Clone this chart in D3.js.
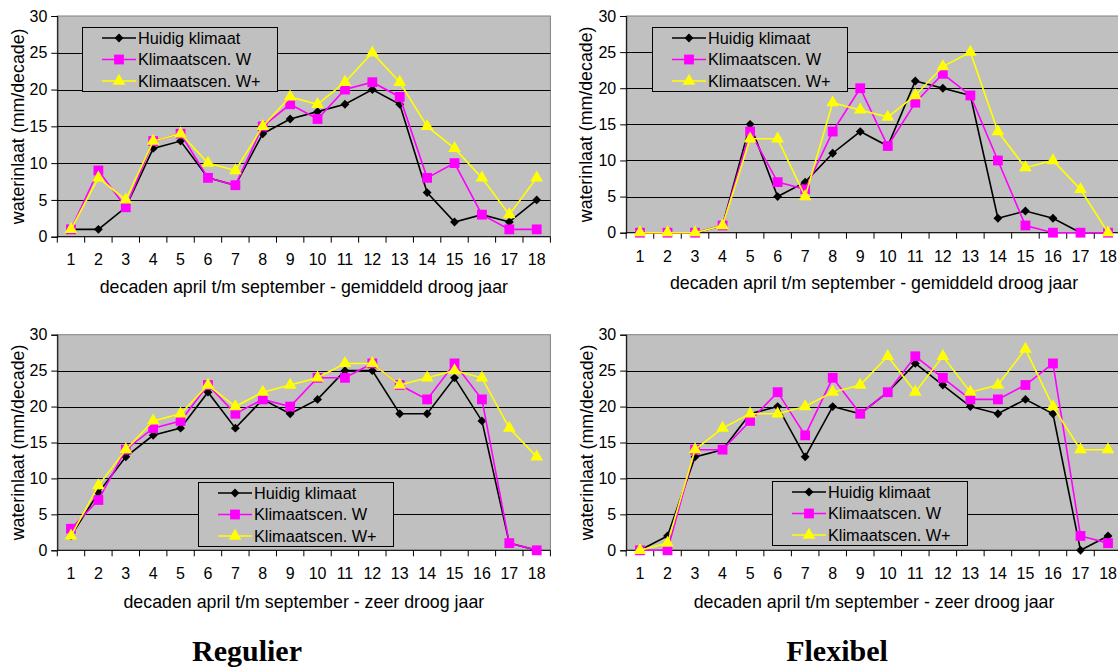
<!DOCTYPE html>
<html>
<head>
<meta charset="utf-8">
<script src="https://cdn.jsdelivr.net/npm/d3@7"></script>
<style>
  body { margin: 0; background: #fff; }
  svg { display: block; font-family: "Liberation Sans", Arial, sans-serif; }
</style>
</head>
<body>
<svg width="1118" height="668"></svg>
<script>
// categories and ticks
var decaden = ["1","2","3","4","5","6","7","8","9","10","11","12","13","14","15","16","17","18"];
var yTicks = [0, 5, 10, 15, 20, 25, 30];
var seriesNames = ["Huidig klimaat", "Klimaatscen. W", "Klimaatscen. W+"];

// Regulier - gemiddeld droog jaar
var regGemHuidig = [1, 1, 4, 12, 13, 8, 7, 14, 16, 17, 18, 20, 18, 6, 2, 3, 2, 5];
var regGemW      = [1, 9, 4, 13, 14, 8, 7, 15, 18, 16, 20, 21, 19, 8, 10, 3, 1, 1];
var regGemWplus  = [1, 8, 5, 13, 14, 10, 9, 15, 19, 18, 21, 25, 21, 15, 12, 8, 3, 8];

// Flexibel - gemiddeld droog jaar
var flexGemHuidig = [0, 0, 0, 1, 15, 5, 7, 11, 14, 12, 21, 20, 19, 2, 3, 2, 0, 0];
var flexGemW      = [0, 0, 0, 1, 14, 7, 6, 14, 20, 12, 18, 22, 19, 10, 1, 0, 0, 0];
var flexGemWplus  = [0, 0, 0, 1, 13, 13, 5, 18, 17, 16, 19, 23, 25, 14, 9, 10, 6, 0];

// Regulier - zeer droog jaar
var regZeerHuidig = [2, 8, 13, 16, 17, 22, 17, 21, 19, 21, 25, 25, 19, 19, 24, 18, 1, 0];
var regZeerW      = [3, 7, 14, 17, 18, 23, 19, 21, 20, 24, 24, 26, 23, 21, 26, 21, 1, 0];
var regZeerWplus  = [2, 9, 14, 18, 19, 23, 20, 22, 23, 24, 26, 26, 23, 24, 25, 24, 17, 13];

// Flexibel - zeer droog jaar
var flexZeerHuidig = [0, 2, 13, 14, 19, 20, 13, 20, 19, 22, 26, 23, 20, 19, 21, 19, 0, 2];
var flexZeerW      = [0, 0, 14, 14, 18, 22, 16, 24, 19, 22, 27, 24, 21, 21, 23, 26, 2, 1];
var flexZeerWplus  = [0, 1, 14, 17, 19, 19, 20, 22, 23, 27, 22, 27, 22, 23, 28, 20, 14, 14];

var xTitleGem = "decaden april t/m september - gemiddeld droog jaar";
var xTitleZeer = "decaden april t/m september - zeer droog jaar";
var yTitle = "waterinlaat (mm/decade)";

var colors = ["#000000", "#ff00ff", "#ffff00"];
var symbols = [d3.symbolDiamond2, d3.symbolSquare, d3.symbolTriangle];
var symbolSizes = [50, 96, 70];

var svg = d3.select("svg");

var panels = [
  { series: [regGemHuidig, regGemW, regGemWplus], xTitle: xTitleGem,
    left: 57.3, right: 550.4, top: 16, bottom: 236.7, tickY: 259, titleY: 287, yTitleX: 18,
    legend: { x: 82, y: 27 } },
  { series: [flexGemHuidig, flexGemW, flexGemWplus], xTitle: xTitleGem,
    left: 626.2, right: 1121.8, top: 16, bottom: 232.7, tickY: 256, titleY: 283, yTitleX: 586,
    legend: { x: 652, y: 27 } },
  { series: [regZeerHuidig, regZeerW, regZeerWplus], xTitle: xTitleZeer,
    left: 57.3, right: 550.4, top: 334.7, bottom: 550.3, tickY: 573, titleY: 601.5, yTitleX: 18,
    legend: { x: 198, y: 482 } },
  { series: [flexZeerHuidig, flexZeerW, flexZeerWplus], xTitle: xTitleZeer,
    left: 626.2, right: 1121.8, top: 334.7, bottom: 550.3, tickY: 573, titleY: 601.5, yTitleX: 587,
    legend: { x: 772, y: 481 } }
];

var drawPanel = function (p) {
  var g = svg.append("g");

  var xScale = d3.scaleBand()
    .domain(decaden)
    .range([p.left, p.right])
    .padding(0);
  var yScale = d3.scaleLinear()
    .domain([0, 30])
    .range([p.bottom, p.top]);
  var xMid = function (i) { return xScale(decaden[i]) + xScale.bandwidth() / 2; };

  // plot area
  g.append("rect")
    .attr("x", p.left).attr("y", p.top)
    .attr("width", p.right - p.left).attr("height", p.bottom - p.top)
    .attr("fill", "#c0c0c0")
    .attr("stroke", "#808080").attr("stroke-width", 1);

  // gridlines
  g.selectAll(".grid")
    .data(yTicks.filter(function (t) { return t > 0 && t < 30; }))
    .enter().append("line")
    .attr("x1", p.left).attr("x2", p.right)
    .attr("y1", function (d) { return Math.round(yScale(d)) + 0.5; })
    .attr("y2", function (d) { return Math.round(yScale(d)) + 0.5; })
    .attr("stroke", "#000").attr("stroke-width", 1);

  // y axis
  var yAxis = d3.axisLeft(yScale).tickValues(yTicks).tickSize(6).tickPadding(4);
  var ya = g.append("g").attr("transform", "translate(" + p.left + ",0)").call(yAxis);
  ya.select(".domain").attr("stroke", "#000");
  ya.selectAll("text").attr("font-size", 16).attr("fill", "#000").attr("font-family", null);

  // x axis: labels centred in each category, ticks on category boundaries
  var xAxis = d3.axisBottom(xScale).tickSize(0).tickPadding(0);
  var xa = g.append("g").attr("transform", "translate(0," + p.bottom + ")").call(xAxis);
  xa.select(".domain").remove();
  xa.selectAll("text")
    .attr("y", p.tickY - p.bottom).attr("dy", "0.35em")
    .attr("font-size", 16).attr("fill", "#000").attr("font-family", null);
  g.append("line")
    .attr("x1", p.left).attr("x2", p.right)
    .attr("y1", p.bottom).attr("y2", p.bottom)
    .attr("stroke", "#000");
  var bounds = decaden.map(function (d) { return xScale(d); }).concat([p.right]);
  g.selectAll(".xtick")
    .data(bounds)
    .enter().append("line")
    .attr("x1", function (d) { return d; }).attr("x2", function (d) { return d; })
    .attr("y1", p.bottom).attr("y2", p.bottom + 6)
    .attr("stroke", "#000");

  // axis titles
  g.append("text")
    .attr("x", (p.left + p.right) / 2)
    .attr("y", p.titleY).attr("dy", "0.35em")
    .attr("text-anchor", "middle").attr("font-size", 17.8)
    .text(p.xTitle);
  g.append("text")
    .attr("transform", "translate(" + p.yTitleX + "," + ((p.top + p.bottom) / 2) + ") rotate(-90)")
    .attr("dy", "0.35em")
    .attr("text-anchor", "middle").attr("font-size", 17.8)
    .text(yTitle);

  // series
  var line = d3.line()
    .x(function (d, i) { return xMid(i); })
    .y(function (d) { return yScale(d); });
  p.series.forEach(function (values, s) {
    var sg = g.append("g");
    sg.append("path")
      .attr("d", line(values))
      .attr("fill", "none")
      .attr("stroke", colors[s]).attr("stroke-width", 1.6);
    sg.selectAll("path.mark")
      .data(values)
      .enter().append("path")
      .attr("class", "mark")
      .attr("d", d3.symbol(symbols[s], symbolSizes[s]))
      .attr("transform", function (d, i) { return "translate(" + xMid(i) + "," + yScale(d) + ")"; })
      .attr("fill", colors[s]);
  });

  // legend
  var lg = g.append("g").attr("transform", "translate(" + p.legend.x + "," + p.legend.y + ")");
  lg.append("rect")
    .attr("x", 0.5).attr("y", 0.5).attr("width", 195).attr("height", 64)
    .attr("fill", "#c0c0c0").attr("stroke", "#000").attr("stroke-width", 1);
  seriesNames.forEach(function (name, s) {
    var ry = 11 + s * 21.5;
    lg.append("line")
      .attr("x1", 20).attr("x2", 54).attr("y1", ry).attr("y2", ry)
      .attr("stroke", colors[s]).attr("stroke-width", 1.6);
    lg.append("path")
      .attr("d", d3.symbol(symbols[s], symbolSizes[s]))
      .attr("transform", "translate(37," + ry + ")")
      .attr("fill", colors[s]);
    lg.append("text")
      .attr("x", 56).attr("y", ry).attr("dy", "0.36em")
      .attr("font-size", 16.3)
      .text(name);
  });
};

panels.forEach(drawPanel);

// group titles
svg.append("text")
  .attr("x", 247).attr("y", 661)
  .attr("text-anchor", "middle")
  .attr("font-family", "'Liberation Serif', 'Times New Roman', serif")
  .attr("font-weight", "bold").attr("font-size", 30)
  .text("Regulier");
svg.append("text")
  .attr("x", 837).attr("y", 661)
  .attr("text-anchor", "middle")
  .attr("font-family", "'Liberation Serif', 'Times New Roman', serif")
  .attr("font-weight", "bold").attr("font-size", 30)
  .text("Flexibel");
</script>
</body>
</html>
